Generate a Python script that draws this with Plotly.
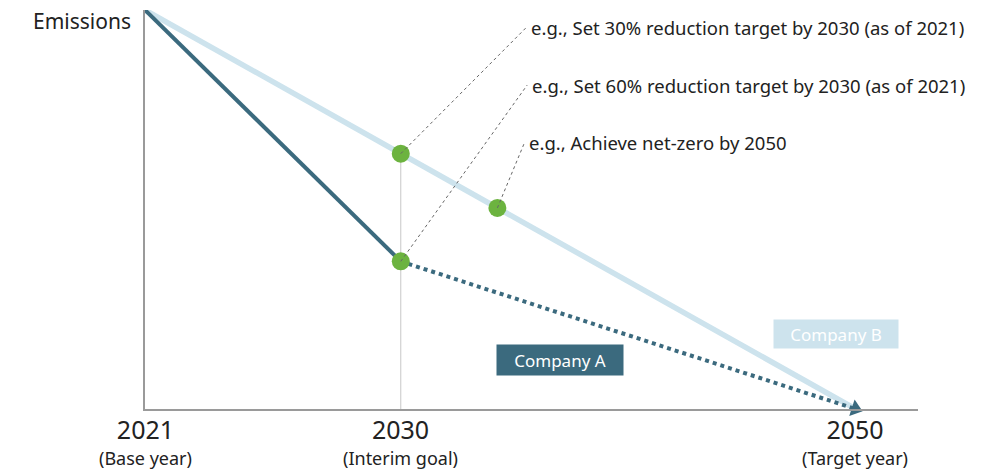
import plotly.graph_objects as go

# Schematic timeline: positions along the axis (years after 2021, 2050 drawn at 25)
milestone_x = [0, 9, 25]
milestone_year = ["2021", "2030", "2050"]
milestone_note = ["(Base year)", "(Interim goal)", "(Target year)"]

# Emission pathways (index, base year = 100)
company_b_x = [0, 25]
company_b_y = [100, 0]
company_a_x = [0, 9]
company_a_y = [100, 37]
company_a_proj_x = [9, 25]
company_a_proj_y = [37, 0]

# Highlighted targets
target_x = [9, 9, 12.4]
target_y = [64, 37, 50.4]
target_text = [
    "e.g., Set 30% reduction target by 2030 (as of 2021)",
    "e.g., Set 60% reduction target by 2030 (as of 2021)",
    "e.g., Achieve net-zero by 2050",
]

FONT = "Noto Sans"
DARK = "#3b6a7e"
LIGHT = "#cde3ed"
GREEN = "#6cb33f"
GREY_TXT = "#222222"
PLOT_H = 399  # plot area height in px, used to place labels under the axis

# label anchor points for the callouts
label_pos = [(13.4, 95.5), (13.45, 81.2), (13.35, 66.7)]

fig = go.Figure()

# interim guide line
fig.add_trace(go.Scatter(x=[9, 9], y=[0, target_y[0]], mode="lines",
                         line=dict(color="#c8c8c8", width=1), hoverinfo="skip"))

fig.add_trace(go.Scatter(x=company_b_x, y=company_b_y, mode="lines",
                         line=dict(color=LIGHT, width=5.5), name="Company B"))
fig.add_trace(go.Scatter(x=company_a_x, y=company_a_y, mode="lines",
                         line=dict(color=DARK, width=4), name="Company A"))
fig.add_trace(go.Scatter(x=company_a_proj_x, y=company_a_proj_y, mode="lines+markers",
                         line=dict(color=DARK, width=4, dash="4px,4px"),
                         marker=dict(symbol="triangle-up", angleref="previous",
                                     size=[0, 15], color=DARK, opacity=1,
                                     line=dict(width=0)),
                         name="Company A projection"))

# callout leader lines
for (tx, ty), (lx, ly) in zip(zip(target_x, target_y), label_pos):
    fig.add_shape(type="line", x0=tx, y0=ty, x1=lx, y1=ly,
                  line=dict(color="#666666", width=1, dash="dot"))

fig.add_trace(go.Scatter(x=target_x, y=target_y, mode="markers",
                         marker=dict(color=GREEN, size=18), name="targets"))

for (lx, ly), txt in zip(label_pos, target_text):
    fig.add_annotation(x=lx, y=ly, text=txt, showarrow=False, xanchor="left",
                       xshift=3, yanchor="middle",
                       font=dict(family=FONT, size=18.5, color=GREY_TXT))

# axis tick labels: year on top, milestone note beneath
for mx, yr, note in zip(milestone_x, milestone_year, milestone_note):
    fig.add_annotation(x=mx, y=-1 / PLOT_H, yref="paper", yanchor="top",
                       text=(f"<span style='font-size:25px'>{yr}</span><br>"
                             f"<span style='font-size:18px'>{note}</span>"),
                       showarrow=False,
                       font=dict(family=FONT, size=20, color=GREY_TXT))

fig.add_annotation(x=0, y=97.3, text="Emissions", showarrow=False, xanchor="right",
                   xshift=-12, font=dict(family=FONT, size=21, color=GREY_TXT))

# series labels
fig.add_annotation(x=14.6, y=12.3, text="Company A", showarrow=False,
                   bgcolor=DARK, width=120, height=24, borderpad=3,
                   font=dict(family=FONT, size=17, color="white"))
fig.add_annotation(x=24.3, y=18.8, text="Company B", showarrow=False,
                   bgcolor=LIGHT, width=118, height=22, borderpad=3,
                   font=dict(family=FONT, size=17, color="white"))

fig.update_xaxes(range=[0, 27.2], showgrid=False, zeroline=False, showticklabels=False,
                 showline=True, linecolor="#9a9a9a", linewidth=1.5)
fig.update_yaxes(range=[0, 100], showgrid=False, zeroline=False, showticklabels=False,
                 showline=True, linecolor="#9a9a9a", linewidth=1.5)

fig.update_layout(width=994, height=471, showlegend=False,
                  margin=dict(l=145, r=76, t=10, b=62),
                  plot_bgcolor="white", paper_bgcolor="white")
fig.update_traces(cliponaxis=False)

fig.write_html("out.html")
